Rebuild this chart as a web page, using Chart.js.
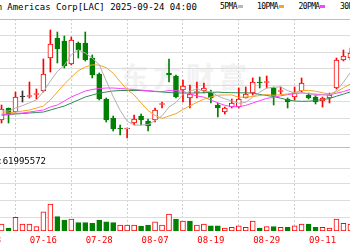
<!DOCTYPE html>
<html><head><meta charset="utf-8">
<script src="https://cdn.jsdelivr.net/npm/chart.js@4.4.1/dist/chart.umd.min.js"></script>
<style>
html,body{margin:0;padding:0;background:#fff;}
body{width:350px;height:250px;overflow:hidden;position:relative;}
.t{position:absolute;white-space:pre;font-family:'DejaVu Sans Mono',monospace;font-size:9px;line-height:12px;color:#000;}
.lg{position:absolute;white-space:pre;font-family:'DejaVu Sans Mono',monospace;font-size:8px;letter-spacing:-0.6px;line-height:12px;color:#000;top:1px;}
.mk{position:absolute;top:5px;width:5px;height:3px;}
#wm{position:absolute;left:120px;top:56px;font-family:'Noto Sans CJK SC',sans-serif;font-size:28px;font-weight:bold;color:#f2f2f2;letter-spacing:5px;white-space:pre;}
canvas{position:absolute;}
</style></head>
<body>
<div id="wm">东方财富</div>
<canvas id="main" width="380" height="130" style="left:-30px;top:18px"></canvas>
<canvas id="vol" width="380" height="102" style="left:-30px;top:148px"></canvas>
<div class="t" style="left:-36.1px;top:1px">Lithium Americas Corp[LAC] 2025-09-24 04:00</div>
<div class="lg" style="left:220px">5PMA</div><div class="mk" style="left:238px;background:#b8b8b8"></div>
<div class="lg" style="left:257px">10PMA</div><div class="mk" style="left:278.5px;background:#f5a623"></div>
<div class="lg" style="left:298.5px">20PMA</div><div class="mk" style="left:319.5px;background:#ff40ff"></div>
<div class="lg" style="left:340px">30PMA</div><div class="mk" style="left:361px;background:#2e8b57"></div>
<div class="t" style="left:-19px;top:155px">VOL:61995572</div>
<script>
const dates = ['07-08','07-09','07-10','07-11','07-14','07-15','07-16','07-17','07-18','07-21',
  '07-22','07-23','07-24','07-25','07-28','07-29','07-30','07-31','08-01','08-04',
  '08-05','08-06','08-07','08-08','08-11','08-12','08-13','08-14','08-15','08-18',
  '08-19','08-20','08-21','08-22','08-25','08-26','08-27','08-28','08-29','09-02',
  '09-03','09-04','09-05','09-08','09-09','09-10','09-11','09-12','09-15','09-16','09-17'];
const open  = [2.80,2.92,2.88,3.03,3.035,3.055,3.09,3.42,3.62,3.59,
  3.36,3.57,3.57,3.42,3.26,3.01,2.82,2.715,2.71,2.77,
  2.84,2.79,2.80,2.955,3.27,3.24,3.10,3.02,3.075,3.09,
  3.08,2.95,2.88,2.93,2.93,3.02,3.07,3.175,3.175,3.12,
  3.085,3.01,3.03,3.09,3.05,3.03,2.99,3.02,3.12,3.40,3.42];
const high  = [2.95,2.92,3.08,3.09,3.18,3.11,3.41,3.70,3.68,3.64,
  3.63,3.58,3.68,3.45,3.27,3.02,2.84,2.75,2.72,2.85,
  2.86,2.81,2.92,2.98,3.41,3.25,3.20,3.15,3.18,3.17,
  3.10,2.97,2.93,3.01,3.12,3.13,3.22,3.23,3.24,3.13,
  3.13,3.02,3.13,3.22,3.07,3.05,3.03,3.07,3.42,3.50,3.52];
const low   = [2.77,2.77,2.88,2.98,3.02,3.01,3.08,3.28,3.37,3.32,
  3.35,3.42,3.39,3.22,3.00,2.78,2.69,2.65,2.62,2.75,
  2.75,2.69,2.78,2.92,3.18,3.02,2.98,2.92,3.02,3.07,
  2.97,2.83,2.86,2.92,2.92,3.02,3.05,3.12,3.12,2.95,
  3.06,2.92,3.00,3.08,3.01,2.96,2.93,2.97,3.11,3.39,3.40];
const close = [2.91,2.85,3.03,3.03,3.04,3.06,3.26,3.56,3.51,3.34,
  3.60,3.50,3.40,3.25,3.01,2.80,2.71,2.71,2.715,2.81,
  2.80,2.74,2.90,2.96,3.25,3.03,3.14,3.06,3.08,3.12,
  3.02,2.92,2.92,2.97,3.01,3.06,3.18,3.17,3.18,3.04,
  3.09,2.98,3.07,3.17,3.02,2.98,3.02,3.05,3.40,3.44,3.47];
const ma5  = [2.89,2.89,2.92,2.944,2.972,3.002,3.084,3.19,3.286,3.346,
  3.454,3.502,3.47,3.418,3.352,3.192,3.034,2.896,2.789,2.749,
  2.749,2.755,2.793,2.842,2.93,2.976,3.056,3.088,3.112,3.086,
  3.084,3.04,3.012,2.99,2.968,2.976,3.028,3.078,3.12,3.126,
  3.132,3.092,3.072,3.07,3.066,3.044,3.052,3.048,3.094,3.178,3.276];
const ma10 = [2.87,2.87,2.88,2.89,2.90,2.92,2.94,3.00,3.08,3.159,
  3.228,3.293,3.33,3.352,3.349,3.323,3.268,3.183,3.104,3.051,
  2.971,2.895,2.845,2.816,2.84,2.863,2.906,2.941,2.977,3.008,
  3.03,3.048,3.05,3.051,3.027,3.03,3.034,3.045,3.055,3.047,
  3.054,3.06,3.075,3.095,3.096,3.088,3.072,3.06,3.082,3.122,3.16];
const ma20 = [2.85,2.855,2.865,2.87,2.88,2.89,2.90,2.93,2.95,2.99,
  3.03,3.06,3.09,3.105,3.115,3.12,3.12,3.115,3.11,3.105,
  3.099,3.094,3.087,3.084,3.094,3.093,3.087,3.062,3.04,3.029,
  3.00,2.971,2.947,2.933,2.933,2.946,2.97,2.993,3.016,3.027,
  3.042,3.054,3.062,3.073,3.061,3.059,3.053,3.052,3.068,3.084,3.107];
const ma30 = [2.85,2.855,2.86,2.865,2.87,2.875,2.88,2.90,2.92,2.94,
  2.97,3.00,3.03,3.05,3.07,3.08,3.09,3.095,3.095,3.095,
  3.095,3.09,3.085,3.08,3.075,3.07,3.07,3.07,3.07,3.073,
  3.076,3.079,3.075,3.073,3.072,3.072,3.069,3.056,3.045,3.035,
  3.018,3.001,2.99,2.987,2.988,2.994,3.004,3.015,3.038,3.059,3.081];
const volume = [17.5,7.5,34,17,17.5,11,48,67.5,36,27.5,
  30,21,21,19,27.5,23,21,15,15,15,
  12.5,15,23,15,42.5,30,25,25,15,17,
  13,13,7,9,13,9,25,7,11,11,
  9,9,13,17.5,17,9,9,7,30,19,17.5];
const tickIndex  = [-2,6,14,22,30,38,46];
const tickLabels = ['07-03','07-16','07-28','08-07','08-19','08-29','09-11'];
const priceGrid  = [2.53,2.655,2.82,2.985,3.15,3.315,3.48,3.645,3.81];
const volGrid    = [35,75,117.5,157.5];

const X_MIN = -4.52, X_MAX = 49.94;
const RED = '#ff0000', GREEN = '#008000', FLAT = '#333333';
const candleColor = i => close[i] > open[i] ? RED : (close[i] < open[i] ? GREEN : FLAT);
const volUp = i => i === 0 || close[i] >= close[i - 1];

Chart.defaults.font.family = "'DejaVu Sans Mono', monospace";

const xAxisBase = (showLabels) => ({
  type: 'linear', min: X_MIN, max: X_MAX, offset: false,
  afterBuildTicks: s => { s.ticks = tickIndex.map(v => ({ value: v })); },
  grid: { color: '#cfcfcf', lineWidth: 1, drawTicks: false },
  border: { display: false, dash: [2, 2] },
  ticks: showLabels ? {
    autoSkip: false, maxRotation: 0, minRotation: 0, padding: 4, color: '#ff0000',
    font: { family: "'DejaVu Sans Mono', monospace", size: 9 },
    callback: v => tickLabels[tickIndex.indexOf(v)]
  } : { display: false },
  afterFit: s => { s.height = showLabels ? 19 : 0; }
});

const line = (arr, color) => ({
  type: 'line', data: arr.map((v, i) => ({ x: i, y: v })), borderColor: color,
  borderWidth: 1, pointRadius: 0, tension: 0, fill: false, order: 0
});

new Chart(document.getElementById('main'), {
  type: 'bar',
  data: { datasets: [
    line(ma5, '#b0b0b0'),
    line(ma10, '#f5a623'),
    line(ma20, '#ff40ff'),
    line(ma30, '#2e8b57'),
    {
      data: open.map((o, i) => ({ x: i, y: [o, close[i]] })),
      backgroundColor: c => close[c.dataIndex] > open[c.dataIndex] ? '#ffffff' : candleColor(c.dataIndex),
      borderColor: c => candleColor(c.dataIndex),
      borderWidth: 1, borderSkipped: false, barThickness: 5, grouped: false, minBarLength: 1, order: 1
    },
    {
      data: low.map((l, i) => ({ x: i, y: [l, high[i]] })),
      backgroundColor: c => candleColor(c.dataIndex),
      borderWidth: 0, barThickness: 1, grouped: false, order: 2
    }
  ]},
  options: {
    responsive: false, animation: false, events: [],
    layout: { padding: { top: 1, bottom: 1, left: 0, right: 0 } },
    plugins: { legend: { display: false }, tooltip: { enabled: false } },
    scales: {
      x: xAxisBase(false),
      y: {
        min: 2.53, max: 3.81,
        afterBuildTicks: s => { s.ticks = priceGrid.map(v => ({ value: v })); },
        grid: { color: c => (c.tick && (c.tick.value === 2.53 || c.tick.value === 3.81)) ? '#bdbdbd' : '#dcdcdc', drawTicks: false },
        border: { display: false },
        ticks: { display: false },
        afterFit: s => { s.width = 0; }
      }
    }
  }
});

new Chart(document.getElementById('vol'), {
  type: 'bar',
  data: { datasets: [{
    data: volume.map((v, i) => ({ x: i, y: v })),
    backgroundColor: c => volUp(c.dataIndex) ? '#ffffff' : GREEN,
    borderColor: c => volUp(c.dataIndex) ? RED : GREEN,
    borderWidth: 1, borderSkipped: false, barThickness: 5, grouped: false
  }]},
  options: {
    responsive: false, animation: false, events: [],
    layout: { padding: 0 },
    plugins: { legend: { display: false }, tooltip: { enabled: false } },
    scales: {
      x: xAxisBase(true),
      y: {
        min: 0, max: 207.5,
        afterBuildTicks: s => { s.ticks = volGrid.map(v => ({ value: v })); },
        grid: { color: '#dcdcdc', drawTicks: false },
        border: { display: false },
        ticks: { display: false },
        afterFit: s => { s.width = 0; }
      }
    }
  }
});
</script>
</body></html>
